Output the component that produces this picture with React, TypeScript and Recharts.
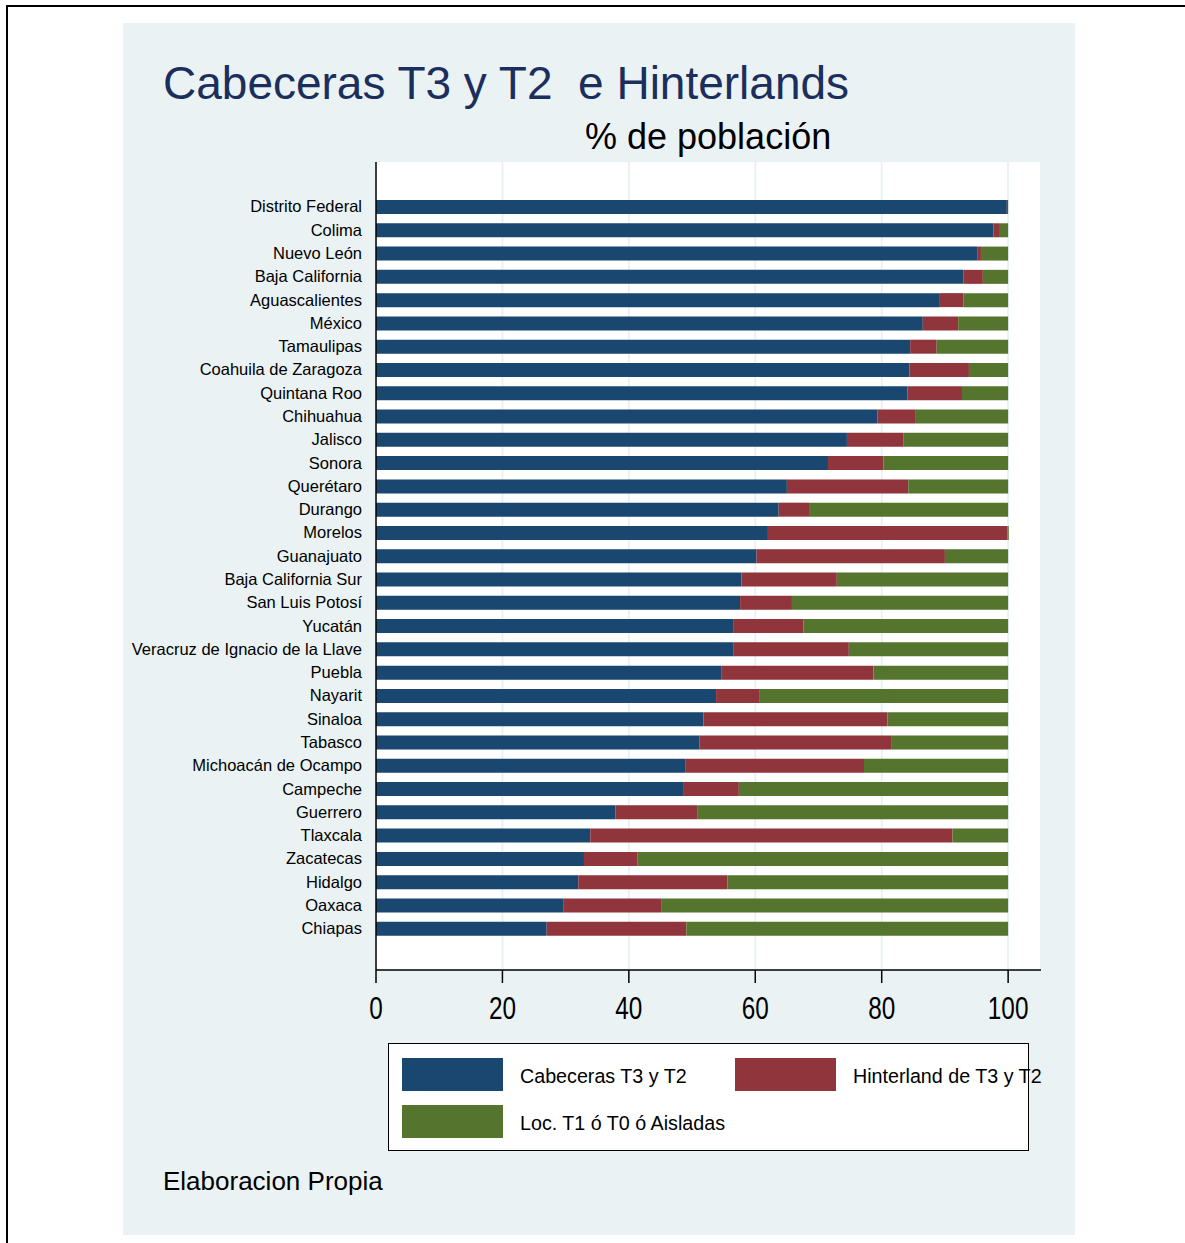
import React from "react";
import { BarChart, Bar, XAxis, YAxis, CartesianGrid } from "recharts";

const categories = [
  "Distrito Federal", "Colima", "Nuevo León", "Baja California", "Aguascalientes", "México",
  "Tamaulipas", "Coahuila de Zaragoza", "Quintana Roo", "Chihuahua", "Jalisco", "Sonora",
  "Querétaro", "Durango", "Morelos", "Guanajuato", "Baja California Sur", "San Luis Potosí",
  "Yucatán", "Veracruz de Ignacio de la Llave", "Puebla", "Nayarit", "Sinaloa", "Tabasco",
  "Michoacán de Ocampo", "Campeche", "Guerrero", "Tlaxcala", "Zacatecas", "Hidalgo", "Oaxaca", "Chiapas",
];
const cabeceras = [99.8, 97.7, 95.1, 92.9, 89.2, 86.5, 84.5, 84.4, 84.1, 79.3, 74.5, 71.5, 65.0, 63.7, 62.0, 60.2, 57.8, 57.6, 56.6, 56.5, 54.6, 53.8, 51.8, 51.2, 49.0, 48.7, 37.9, 33.9, 32.9, 32.0, 29.7, 27.0];
const hinterland = [0.2, 1.0, 0.6, 3.1, 3.7, 5.6, 4.2, 9.4, 8.6, 6.1, 8.9, 8.8, 19.2, 4.8, 37.9, 29.8, 15.1, 8.2, 11.0, 18.3, 24.1, 6.8, 29.1, 30.4, 28.2, 8.7, 12.9, 57.3, 8.5, 23.6, 15.4, 22.1];
const aisladas = [0.0, 1.3, 4.3, 4.0, 7.1, 7.9, 11.3, 6.2, 7.3, 14.6, 16.6, 19.7, 15.8, 31.5, 0.2, 10.0, 27.1, 34.2, 32.4, 25.2, 21.3, 39.4, 19.1, 18.4, 22.8, 42.6, 49.2, 8.8, 58.6, 44.4, 54.9, 50.9];
const xTicks = [0, 20, 40, 60, 80, 100];

const seriesNames = ["Cabeceras T3 y T2", "Hinterland de T3 y T2", "Loc. T1 ó T0 ó Aisladas"];
const colors = ["#1a476f", "#90353b", "#55752f"];

const data = categories.map((name, i) => ({
  name,
  cab: cabeceras[i],
  hin: hinterland[i],
  ais: aisladas[i],
}));

const FONT = "'Liberation Sans', Arial, Helvetica, sans-serif";

const LegendBox = () => {
  const item = (i: number, left: number, top: number) => (
    <div key={i} style={{ position: "absolute", left, top, height: 33, display: "flex", alignItems: "center" }}>
      <div style={{ width: 101, height: 33, background: colors[i] }} />
      <span style={{ marginLeft: 17, paddingTop: 3, fontSize: 19.7, color: "#000", fontFamily: FONT, whiteSpace: "nowrap" }}>{seriesNames[i]}</span>
    </div>
  );
  return (
    <div style={{ position: "absolute", left: 388, top: 1043, width: 641, height: 108, background: "#fff", border: "1.5px solid #000", boxSizing: "border-box" }}>
      {item(0, 13, 14)}
      {item(1, 346, 14)}
      {item(2, 13, 61)}
    </div>
  );
};

const XTick = (props: any) => {
  const { x, y, payload } = props;
  return (
    <text
      transform={`translate(${x},${y}) scale(0.76,1)`}
      textAnchor="middle"
      dy="0.71em"
      fontSize={32}
      fontFamily={FONT}
      fill="#000"
    >
      {payload.value}
    </text>
  );
};

export default function App() {
  return (
    <div style={{ position: "absolute", left: 0, top: 0, width: 1185, height: 1243, overflow: "hidden", background: "#fff", fontFamily: FONT }}>
      <div style={{ position: "absolute", left: 6, top: 5, width: 1300, height: 1300, border: "2px solid #000" }} />
      <div style={{ position: "absolute", left: 123, top: 23, width: 952, height: 1212, background: "#eaf2f3" }} />
      <div style={{ position: "absolute", left: 0, top: 0 }}>
        <BarChart
          width={1185}
          height={1243}
          data={data}
          layout="vertical"
          margin={{ top: 162, right: 144, left: 126, bottom: 213 }}
          barSize={14}
        >
          <CartesianGrid horizontal={false} vertical={true} fill="#ffffff" stroke="#eaf2f3" strokeWidth={2} />
          <XAxis
            type="number"
            domain={[0, 105.2]}
            ticks={xTicks}
            allowDataOverflow
            tickSize={13}
            tickMargin={13}
            axisLine={{ stroke: "#000", strokeWidth: 1.5 }}
            tickLine={{ stroke: "#000", strokeWidth: 1.5 }}
            tick={<XTick />}
            height={60}
          />
          <YAxis
            type="category"
            dataKey="name"
            width={250}
            interval={0}
            tickSize={0}
            tickMargin={14}
            padding={{ top: 33, bottom: 30 }}
            axisLine={{ stroke: "#000", strokeWidth: 1.5 }}
            tickLine={false}
            tick={{ fill: "#000", fontSize: 16.5, fontFamily: FONT }}
          />
          <Bar dataKey="cab" stackId="a" name={seriesNames[0]} fill={colors[0]} isAnimationActive={false} />
          <Bar dataKey="hin" stackId="a" name={seriesNames[1]} fill={colors[1]} isAnimationActive={false} />
          <Bar dataKey="ais" stackId="a" name={seriesNames[2]} fill={colors[2]} isAnimationActive={false} />
        </BarChart>
      </div>
      <LegendBox />
      <div style={{ position: "absolute", left: 163, top: 53, fontSize: 46, color: "#1c2f5c", whiteSpace: "pre", lineHeight: "60px" }}>
        {"Cabeceras T3 y T2  e Hinterlands"}
      </div>
      <div style={{ position: "absolute", left: 585, top: 115, fontSize: 36, color: "#000", whiteSpace: "pre", lineHeight: "44px" }}>
        {"% de población"}
      </div>
      <div style={{ position: "absolute", left: 163, top: 1164, fontSize: 26, color: "#000", whiteSpace: "pre", lineHeight: "34px" }}>
        {"Elaboracion Propia"}
      </div>
    </div>
  );
}
